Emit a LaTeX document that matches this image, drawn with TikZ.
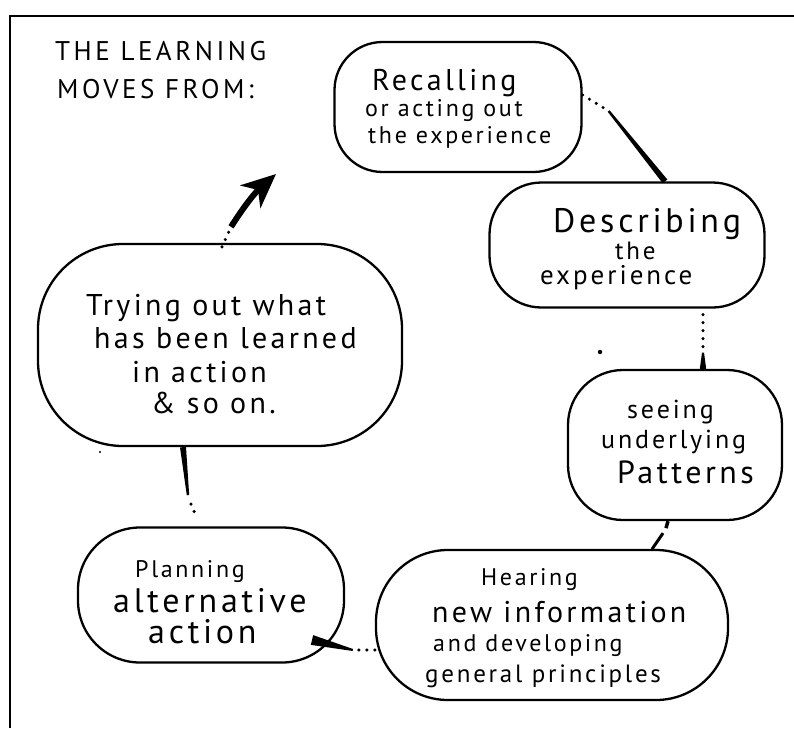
\documentclass[tikz,border=0pt]{standalone}
\usepackage{fontspec}
\setmainfont[LetterSpace=11]{PT Sans}
\newfontfamily\titlefont[LetterSpace=13]{PT Sans}
\usetikzlibrary{calc,arrows.meta}

% tapered connector: thin end at #1, thick end at #2
\newcommand\taperline[4]{%
  \fill ($(#1)!#3!90:(#2)$) -- ($(#2)!#4!-90:(#1)$) --
        ($(#2)!#4!90:(#1)$) -- ($(#1)!#3!-90:(#2)$) -- cycle;}

\begin{document}
\begin{tikzpicture}[x=1pt,y=-1pt,
  blob/.style={draw,line width=2.3pt,rounded corners=#1,inner sep=0pt},
  blob/.default=45,
  txt/.style={anchor=base west,inner sep=0pt},
  dots/.style={line width=3.4pt,line cap=round,dash pattern=on 0pt off 8pt},
  frame/.style={line width=1.8pt}]
\useasboundingbox (0,0) rectangle (794,728);

% frame
\coordinate (f0) at (10,728);
\coordinate (f1) at (10,16);
\coordinate (f2) at (794,16);
\draw[frame] (f0) -- (f1) -- (f2);

% title
\node[txt,font=\titlefont\fontsize{27}{27}\selectfont] (title1) at (55,60) {THE LEARNING};
\node[txt,font=\titlefont\fontsize{27}{27}\selectfont] (title2) at (57,98) {MOVES FROM:};

% stages
\node[blob=48,minimum width=247pt,minimum height=130pt] (rec)  at (458,107) {};
\node[blob=52,minimum width=275pt,minimum height=125pt] (desc) at (627,245) {};
\node[blob=55,minimum width=214pt,minimum height=150pt] (see)  at (675,445) {};
\node[blob=72,minimum width=352pt,minimum height=150pt] (hear) at (552,625) {};
\node[blob=62,minimum width=266pt,minimum height=135pt] (plan) at (211,595) {};
\node[blob=85,minimum width=364pt,minimum height=202pt] (try)  at (220,345) {};

% texts
\node[txt,font=\fontsize{30}{30}\selectfont] (recA) at (372,90) {Recalling};
\node[txt,font=\fontsize{24}{24}\selectfont] (recB) at (365,116) {or acting out};
\node[txt,font=\fontsize{24}{24}\selectfont] (recC) at (368,143) {the experience};

\node[txt,font=\fontsize{34}{34}\selectfont] (descA) at (553,232) {Describing};
\node[txt,font=\fontsize{25}{25}\selectfont] (descB) at (615,259) {the};
\node[txt,font=\fontsize{27}{27}\selectfont] (descC) at (540,284) {experience};

\node[txt,font=\fontsize{26}{26}\selectfont] (seeA) at (627,418) {seeing};
\node[txt,font=\fontsize{26}{26}\selectfont] (seeB) at (601,448) {underlying};
\node[txt,font=\fontsize{32}{32}\selectfont] (seeC) at (617,483) {Patterns};

\node[txt,font=\fontsize{24}{24}\selectfont] (hearA) at (481,585) {Hearing};
\node[txt,font=\fontsize{30}{30}\selectfont] (hearB) at (432,622) {new information};
\node[txt,font=\fontsize{24}{24}\selectfont] (hearC) at (433,651) {and developing};
\node[txt,font=\fontsize{25}{25}\selectfont] (hearD) at (425,682) {general principles};

\node[txt,font=\fontsize{24}{24}\selectfont] (planA) at (135,577) {Planning};
\node[txt,font=\fontsize{34}{34}\selectfont] (planB) at (113,612) {alternative};
\node[txt,font=\fontsize{34}{34}\selectfont] (planC) at (148,643) {action};

\node[txt,font=\fontsize{30}{30}\selectfont] (tryA) at (86,315) {Trying out what};
\node[txt,font=\fontsize{30}{30}\selectfont] (tryB) at (94,348) {has been learned};
\node[txt,font=\fontsize{30}{30}\selectfont] (tryC) at (132,382) {in action};
\node[txt,font=\fontsize{30}{30}\selectfont] (tryD) at (151,413) {\& so on.};

% connector: recalling -> describing
\coordinate (c1a) at ([yshift=12pt]rec.east);
\coordinate (c1b) at ($(c1a)+(26,16)$);
\coordinate (c1c) at ([xshift=38pt]desc.north);
\draw[dots] (c1a) -- (c1b);
\taperline{c1b}{c1c}{1.2pt}{3pt}

% connector: describing -> seeing
\coordinate (c2a) at ([xshift=76pt,yshift=-6pt]desc.south);
\coordinate (c2b) at ($(c2a)+(0,38)$);
\coordinate (c2c) at ([xshift=28pt]see.north);
\draw[dots] (c2a) -- (c2b);
\taperline{c2b}{c2c}{1pt}{3.2pt}

% connector: seeing -> hearing
\coordinate (c3a) at ([xshift=-7pt]see.south);
\coordinate (c3b) at ($(c3a)+(-2,7)$);
\coordinate (c3c) at ($(c3a)+(-5,12)$);
\coordinate (c3d) at ($(c3a)+(-16,28)$);
\draw[line width=3.5pt] (c3a) -- (c3b);
\draw[line width=3pt] (c3c) -- (c3d);

% connector: hearing -> planning
\coordinate (c4a) at ([yshift=-25pt]hear.west);
\coordinate (c4b) at ($(c4a)+(-22,0)$);
\coordinate (c4c) at ($(plan.center)+(101,45)$);
\draw[dots] (c4a) -- (c4b);
\taperline{c4b}{c4c}{1pt}{5pt}

% connector: trying -> planning
\coordinate (c5a) at ([xshift=-37pt]try.south);
\coordinate (c5b) at ($(c5a)+(5,48)$);
\coordinate (c5c) at ($(c5b)+(3,9)$);
\coordinate (c5d) at ([xshift=-14pt,yshift=8pt]plan.north);
\taperline{c5b}{c5a}{1.2pt}{3pt}
\draw[dots] (c5c) -- (c5d);

% connector: trying -> onwards
\coordinate (c6a) at ([xshift=2pt,yshift=-4pt]try.north);
\coordinate (c6b) at ($(c6a)+(9,-20)$);
\coordinate (c6c) at (276,174);
\draw[dots] (c6a) -- (c6b);
\draw[line width=6pt,-{Stealth[length=34pt,width=30pt,inset=10pt]}] (c6b) to[bend left=8] (c6c);

% specks
\fill (600,352) circle (2.2pt);
\fill (100,452) circle (1.2pt);
\end{tikzpicture}
\end{document}
